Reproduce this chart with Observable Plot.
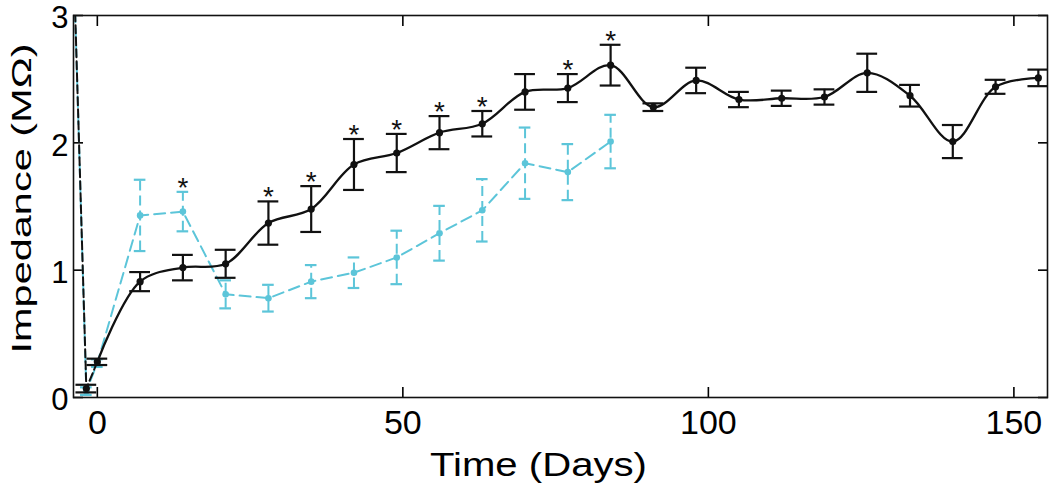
<!DOCTYPE html>
<html>
<head>
<meta charset="utf-8">
<script src="https://cdn.jsdelivr.net/npm/d3@7"></script>
<script src="https://cdn.jsdelivr.net/npm/@observablehq/plot@0.6"></script>
<style>
  html, body { margin: 0; padding: 0; background: #fff; }
</style>
</head>
<body>
<div id="chart"></div>
<script>
// ---- data ----
const blackDays = [-3.8, -1.8, 0, 7, 14, 21, 28, 35, 42, 49, 56, 63, 70, 77, 84, 91, 98, 105, 112, 119, 126, 133, 140, 147, 154];
const blackMean = [3.3, 0.07, 0.28, 0.91, 1.02, 1.05, 1.37, 1.48, 1.83, 1.92, 2.08, 2.15, 2.40, 2.43, 2.61, 2.28, 2.49, 2.34, 2.35, 2.36, 2.55, 2.37, 2.01, 2.44, 2.51];
const blackErr  = [0, 0.03, 0.025, 0.075, 0.10, 0.11, 0.17, 0.18, 0.20, 0.15, 0.13, 0.10, 0.14, 0.11, 0.16, 0.03, 0.10, 0.06, 0.06, 0.06, 0.15, 0.085, 0.13, 0.055, 0.065];

const cyanDays = [-3.8, -1.8, 0, 7, 14, 21, 28, 35, 42, 49, 56, 63, 70, 77, 84];
const cyanMean = [3.3, 0.05, 0.27, 1.43, 1.46, 0.81, 0.78, 0.91, 0.98, 1.10, 1.29, 1.47, 1.84, 1.77, 2.01];
const cyanErr  = [0, 0.03, 0.03, 0.28, 0.155, 0.11, 0.105, 0.13, 0.12, 0.21, 0.215, 0.245, 0.28, 0.22, 0.21];

const starDays = [14, 28, 35, 42, 49, 56, 63, 77, 84];

const xTicks = [0, 50, 100, 150];
const yTicks = [0, 1, 2, 3];
const xLabel = "Time (Days)";
const yLabel = "Impedance (MΩ)";

// ---- build tables ----
const black = blackDays.map((d, i) => ({day: d, mean: blackMean[i], err: blackErr[i]}));
const cyan = cyanDays.map((d, i) => ({day: d, mean: cyanMean[i], err: cyanErr[i]}));
const stars = starDays.map(d => {
  const b = black.find(r => r.day === d);
  const c = cyan.find(r => r.day === d);
  return {day: d, top: Math.max(b.mean + b.err, c ? c.mean + c.err : -Infinity)};
});

const BLACK = "#111111";
const CYAN = "#5cc5d9";
const capB = 1.7, capC = 0.95;

const chart = Plot.plot({
  width: 1050,
  height: 491,
  marginLeft: 73,
  marginRight: 3,
  marginTop: 15,
  marginBottom: 94,
  style: {fontFamily: "'Liberation Sans', Arial, Helvetica, sans-serif", background: "#fff", color: "#000", overflow: "visible"},
  x: {domain: [-3.9, 155.5]},
  y: {domain: [0, 3]},
  marks: [
    // tick labels
    Plot.axisX(xTicks, {anchor: "bottom", tickSize: 0, tickPadding: 12, fontSize: 34, tickFormat: d => String(d), label: null}),
    Plot.axisY(yTicks, {anchor: "left", tickSize: 0, tickPadding: 5, fontSize: 31, dy: 3, tickFormat: d => String(d), label: null}),
    // inward ticks on all four sides
    Plot.axisX(xTicks, {anchor: "bottom", tickSize: 10, dy: -10, strokeWidth: 1.6, tickFormat: () => "", label: null}),
    Plot.axisX(xTicks, {anchor: "top", tickSize: 10, dy: 10, strokeWidth: 1.6, tickFormat: () => "", label: null}),
    Plot.axisY(yTicks, {anchor: "left", tickSize: 10, dx: 10, strokeWidth: 1.6, tickFormat: () => "", label: null}),
    Plot.axisY(yTicks, {anchor: "right", tickSize: 10, dx: -10, strokeWidth: 1.6, tickFormat: () => "", label: null}),

    // cyan series (dashed)
    Plot.ruleX(cyan, {x: "day", y1: d => d.mean - d.err, y2: d => d.mean + d.err, stroke: CYAN, strokeWidth: 2, strokeDasharray: "10,5", clip: true}),
    Plot.ruleY(cyan, {y: d => d.mean + d.err, x1: d => d.day - capC, x2: d => d.day + capC, stroke: CYAN, strokeWidth: 2.2, clip: true}),
    Plot.ruleY(cyan, {y: d => d.mean - d.err, x1: d => d.day - capC, x2: d => d.day + capC, stroke: CYAN, strokeWidth: 2.2, clip: true}),
    Plot.line(cyan, {x: "day", y: "mean", stroke: CYAN, strokeWidth: 2, strokeDasharray: "11,6", clip: true}),
    Plot.dot(cyan, {x: "day", y: "mean", r: 3.3, fill: CYAN, clip: true}),

    // black series
    Plot.ruleX(black, {x: "day", y1: d => d.mean - d.err, y2: d => d.mean + d.err, stroke: BLACK, strokeWidth: 2.2, clip: true}),
    Plot.ruleY(black, {y: d => d.mean + d.err, x1: d => d.day - capB, x2: d => d.day + capB, stroke: BLACK, strokeWidth: 2.2, clip: true}),
    Plot.ruleY(black, {y: d => d.mean - d.err, x1: d => d.day - capB, x2: d => d.day + capB, stroke: BLACK, strokeWidth: 2.2, clip: true}),
    Plot.line(black.slice(0, 3), {x: "day", y: "mean", stroke: BLACK, strokeWidth: 2, strokeDasharray: "8,4", clip: true}),
    Plot.line(black.slice(2), {x: "day", y: "mean", stroke: BLACK, strokeWidth: 2.3, curve: "catmull-rom", clip: true}),
    Plot.dot(black, {x: "day", y: "mean", r: 3.6, fill: BLACK, clip: true}),

    // significance stars
    Plot.text(stars, {x: "day", y: "top", text: () => "*", fontSize: 28, lineAnchor: "middle", dy: -4, fill: BLACK}),

    // axis titles
    Plot.text([xLabel], {text: d => d, frameAnchor: "bottom", dx: -22, dy: 68, fontSize: 33, lineAnchor: "middle", fill: "#000"}),
    Plot.text([yLabel], {text: d => d, frameAnchor: "left", rotate: -90, dx: -51, dy: -8, fontSize: 28, lineAnchor: "middle", fill: "#000"}),

    Plot.frame({stroke: "#111", strokeWidth: 1.6})
  ]
});

// stretch the axis titles to the reference's length, keeping them centred
function stretch(t, len) {
  t.setAttribute("text-anchor", "start");
  t.setAttribute("x", -len / 2);
  t.setAttribute("textLength", len);
  t.setAttribute("lengthAdjust", "spacingAndGlyphs");
}
chart.querySelectorAll("text").forEach(t => {
  if (t.textContent === xLabel) stretch(t, 217);
  if (t.textContent === yLabel) stretch(t, 310);
});

document.getElementById("chart").appendChild(chart);
</script>
</body>
</html>
